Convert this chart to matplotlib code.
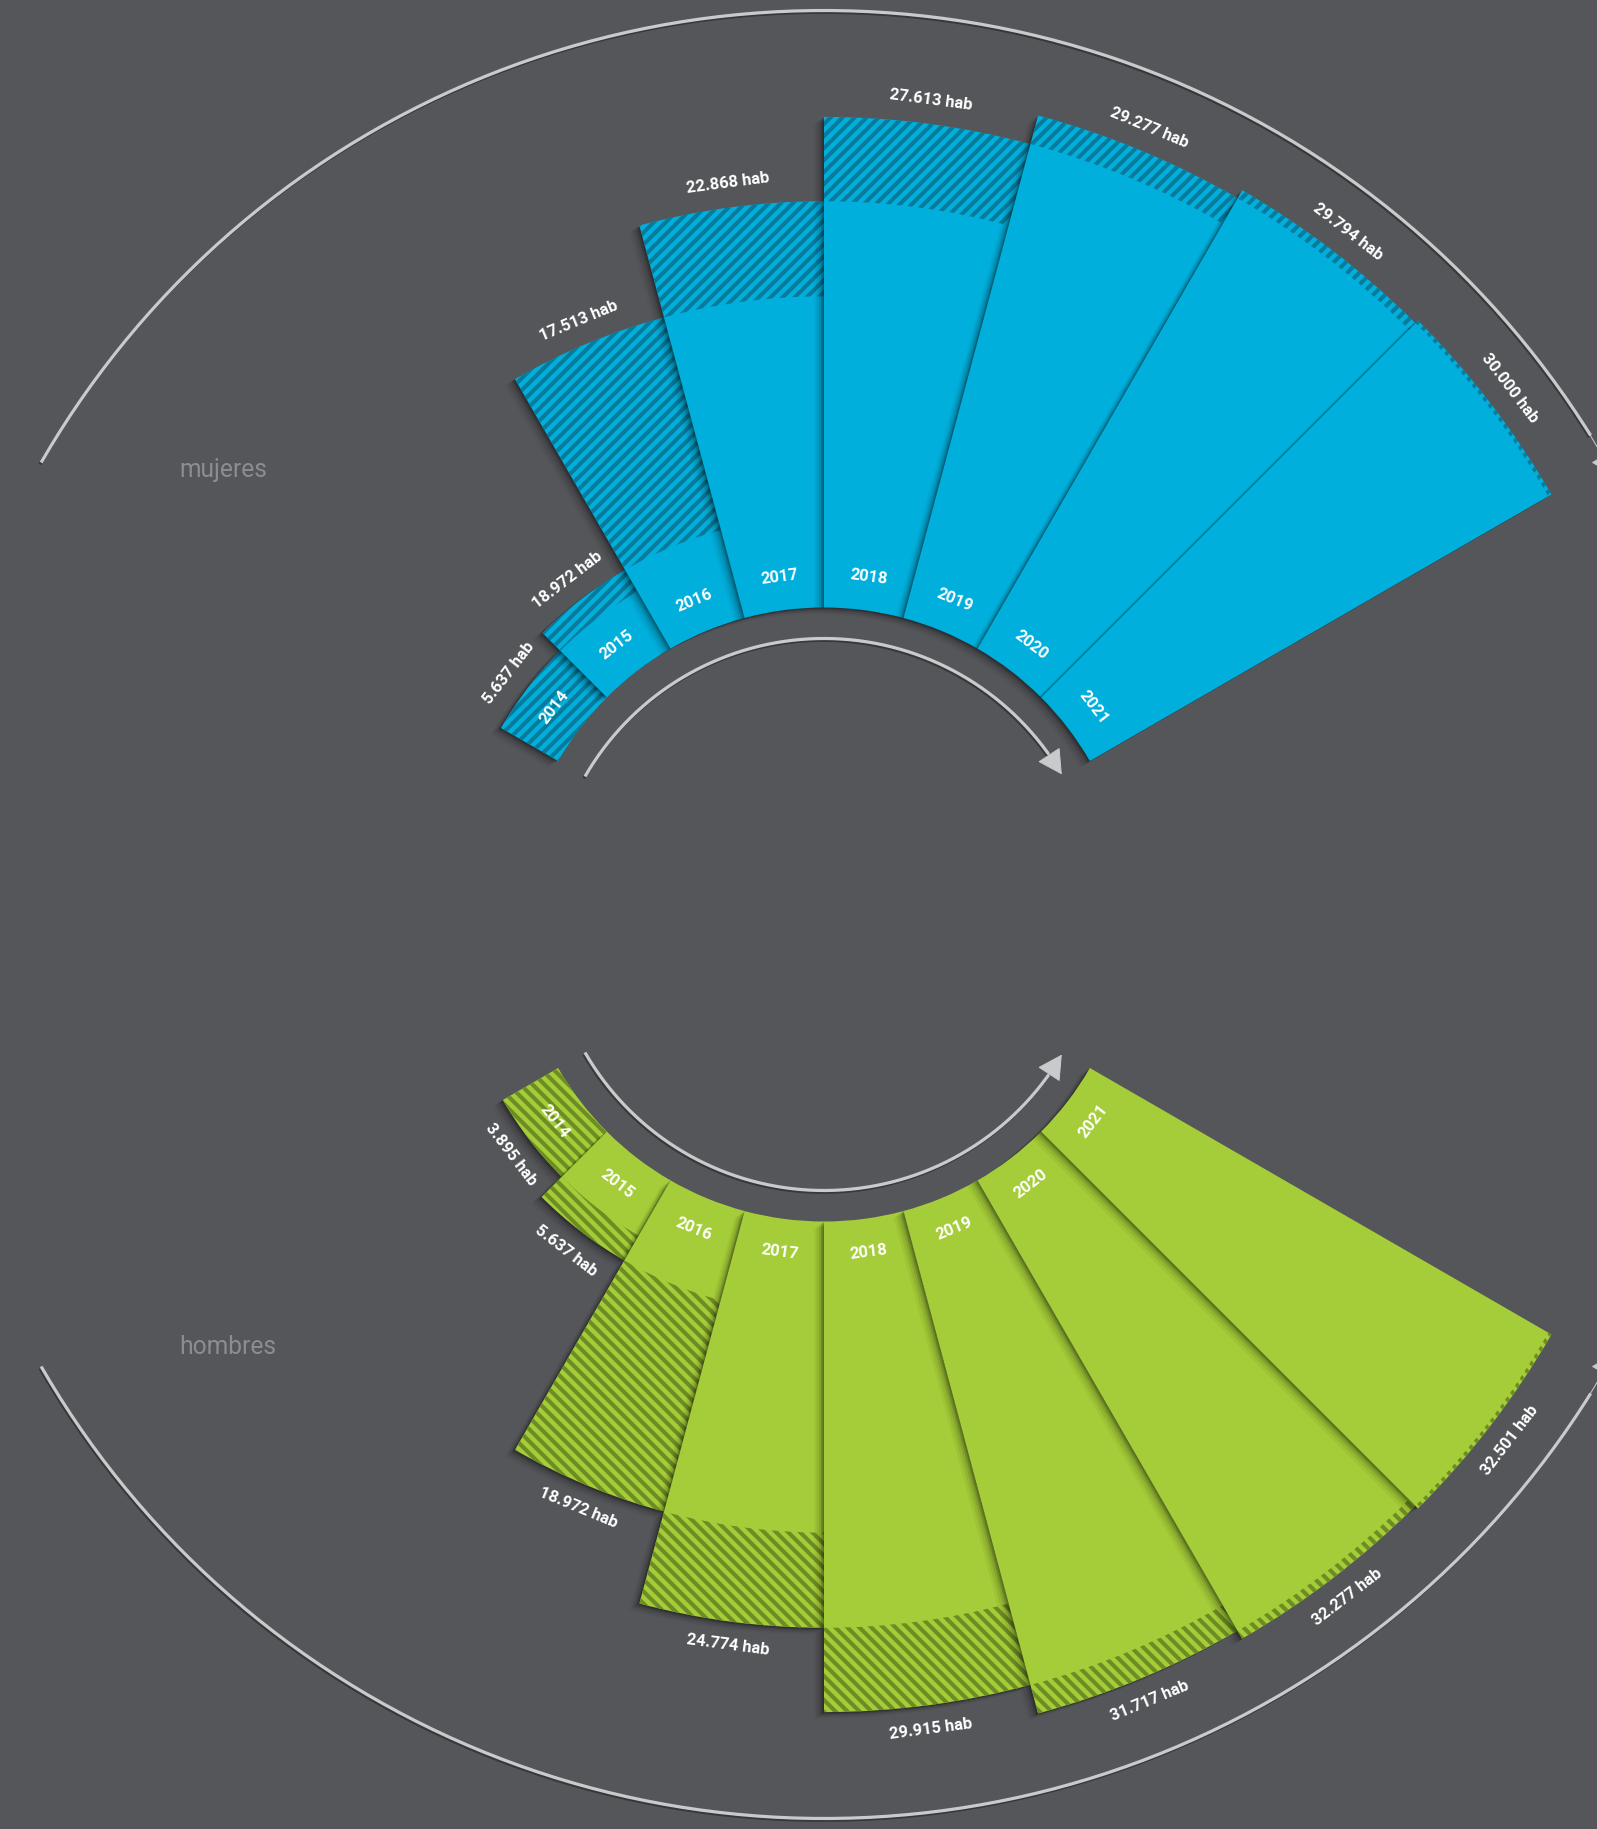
import numpy as np
import matplotlib
matplotlib.use("Agg")
import matplotlib.pyplot as plt
import matplotlib.patheffects as pe

# ---------------- data ----------------
years = ['2014', '2015', '2016', '2017', '2018', '2019', '2020', '2021']
# bar lengths as drawn (mujeres 2014/2015)
mujeres_values = [3715, 5120, 17513, 22868, 27613, 29277, 29794, 30000]
mujeres_labels = ['5.637 hab', '18.972 hab', '17.513 hab', '22.868 hab',
                  '27.613 hab', '29.277 hab', '29.794 hab', '30.000 hab']
hombres_values = [3895, 5637, 18972, 24774, 29915, 31717, 32277, 32501]
hombres_labels = ['3.895 hab', '5.637 hab', '18.972 hab', '24.774 hab',
                  '29.915 hab', '31.717 hab', '32.277 hab', '32.501 hab']
series_names = ['mujeres', 'hombres']

# ---------------- layout / style ----------------
W, H, DPI = 1597, 1829, 72
CX, CY = 824, 914.5          # centre of the fan (px, from top-left)
R_AX = 1000                  # polar axes radius (px)
INNER = 307                  # inner radius of the bars (px)
BAR_MAX = 840                # outer radius of the longest bar (px)
ARROW_IN = 276               # inner arrow arc radius (px)
ARROW_OUT = 904              # outer arrow arc radius (px)
SECTOR = 15.0
START = 150.0

BG = '#55565a'
ARC = '#c9cacc'
BLUE, BLUE_D = '#00afdc', '#0a7a9a'
GREEN, GREEN_D = '#a5cd39', '#6d8d22'
LABEL_GREY = '#8c8d91'

plt.rcParams['hatch.linewidth'] = 4.1
pt = 72.0 / DPI

fig = plt.figure(figsize=(W / DPI, H / DPI), dpi=DPI)
fig.patch.set_facecolor(BG)

rect = [(CX - R_AX) / W, (H - CY - R_AX) / H, 2 * R_AX / W, 2 * R_AX / H]

shadow = [
    pe.SimplePatchShadow(offset=(-1.5, -1.0), shadow_rgbFace='black', alpha=0.18),
    pe.SimplePatchShadow(offset=(-3.0, -2.0), shadow_rgbFace='black', alpha=0.14),
    pe.SimplePatchShadow(offset=(-5.0, -3.2), shadow_rgbFace='black', alpha=0.10),
    pe.SimplePatchShadow(offset=(-7.5, -4.8), shadow_rgbFace='black', alpha=0.07),
    pe.SimplePatchShadow(offset=(-10.0, -6.5), shadow_rgbFace='black', alpha=0.04),
    pe.Normal(),
]
line_shadow = [pe.SimpleLineShadow(offset=(-1.2, -1.8), shadow_color='black', alpha=0.35),
               pe.Normal()]

FS = 16.5 * pt


def draw_half(values, labels, sign, color, dark, hatch):
    ax = fig.add_axes(rect, projection='polar')
    ax.set_axis_off()
    n = len(values)
    k = (BAR_MAX - INNER) / max(values)          # px per hab

    def r_of(px):
        return (px - INNER) / k

    ax.set_ylim(r_of(0), r_of(R_AX))
    thetas_deg = sign * (START - SECTOR / 2 - SECTOR * np.arange(n))
    thetas = np.radians(thetas_deg)
    width = np.radians(SECTOR)
    prev = [0] + list(values[:-1])
    for i in range(n):
        bars = ax.bar(thetas[i], values[i], width=width, bottom=0, color=color,
                      linewidth=0, zorder=2 + i * 0.1)
        bars[0].set_path_effects(shadow)
        ax.bar(thetas[i], values[i] - prev[i], width=width, bottom=prev[i],
               facecolor='none', edgecolor=dark, linewidth=0, hatch=hatch,
               zorder=2 + i * 0.1 + 0.05)
        rot = thetas_deg[i] - 90 if sign > 0 else thetas_deg[i] + 90
        ax.text(thetas[i], r_of(340), years[i], rotation=rot, rotation_mode='anchor',
                ha='center', va='center', color='white', fontsize=FS,
                fontweight='bold', family='Roboto', zorder=20)
        ax.text(thetas[i], values[i] + 24 / k, labels[i], rotation=rot,
                rotation_mode='anchor', ha='center', va='center', color='white',
                fontsize=FS, fontweight='bold', family='Roboto', zorder=20)

    # arrow arcs
    for rad_px, a_end, a_tip in [(ARROW_IN, 35.5, 30.5), (ARROW_OUT, 32.0, 29.0)]:
        th = np.radians(sign * np.linspace(START, a_end, 200))
        ax.plot(th, np.full_like(th, r_of(rad_px)), color=ARC, lw=3.2,
                solid_capstyle='butt', zorder=1, path_effects=line_shadow)
        ax.annotate('', xy=(np.radians(sign * a_tip), r_of(rad_px)),
                    xytext=(np.radians(sign * (a_end + 0.5)), r_of(rad_px)),
                    arrowprops=dict(arrowstyle='-|>,head_length=0.5,head_width=0.27',
                                    color=ARC, lw=1.0, shrinkA=0, shrinkB=0,
                                    mutation_scale=44),
                    zorder=1)
    return ax


draw_half(mujeres_values, mujeres_labels, 1, BLUE, BLUE_D, '//')
draw_half(hombres_values, hombres_labels, -1, GREEN, GREEN_D, '\\\\')

fig.text(223 / W, 1 - 477 / H, series_names[0], ha='center', va='baseline',
         color=LABEL_GREY, fontsize=24.6 * pt, family='Roboto')
fig.text(228 / W, 1 - 1354 / H, series_names[1], ha='center', va='baseline',
         color=LABEL_GREY, fontsize=24.6 * pt, family='Roboto')

fig.savefig('out.png', dpi=DPI, facecolor=fig.get_facecolor())
